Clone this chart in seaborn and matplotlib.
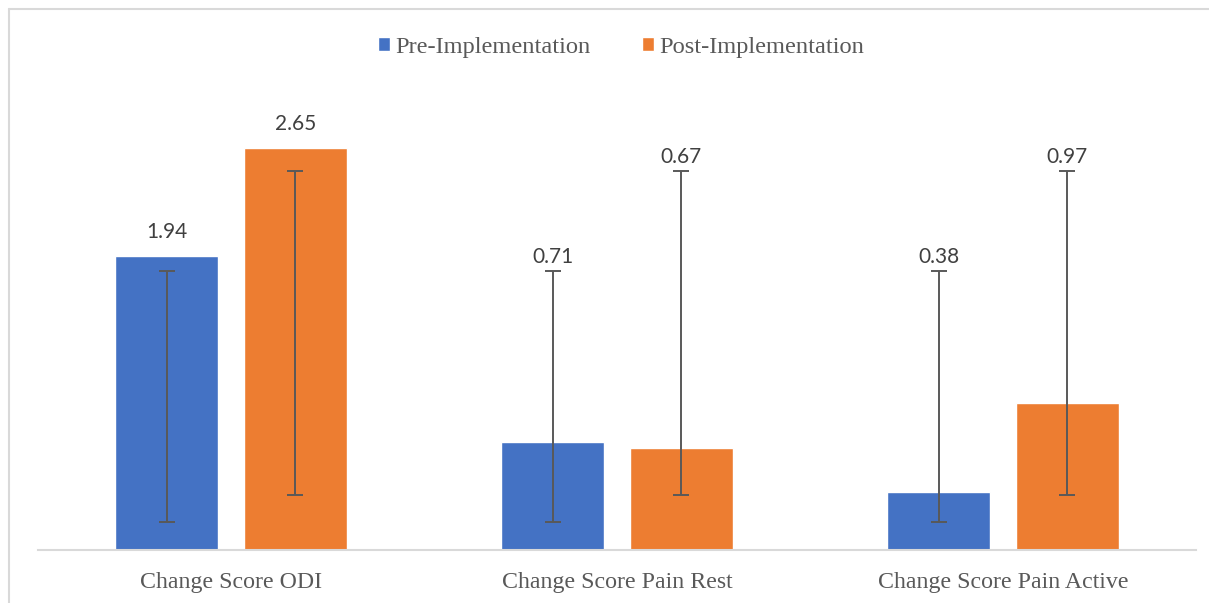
import matplotlib
matplotlib.use("Agg")
import matplotlib.pyplot as plt
from matplotlib.lines import Line2D
import seaborn as sns
import pandas as pd
import numpy as np

categories = ["Change Score ODI", "Change Score Pain Rest", "Change Score Pain Active"]
series = ["Pre-Implementation", "Post-Implementation"]
pre_values = [1.94, 0.71, 0.38]
post_values = [2.65, 0.67, 0.97]
# error bar extents (lower, upper) as drawn in the chart
pre_err_low = [0.185, 0.185, 0.185]
pre_err_high = [1.84, 1.84, 1.84]
post_err_low = [0.365, 0.365, 0.365]
post_err_high = [2.50, 2.50, 2.50]
value_labels_pre = ["1.94", "0.71", "0.38"]
value_labels_post = ["2.65", "0.67", "0.97"]

colors = ["#4472C4", "#ED7D31"]

df = pd.DataFrame({
    "category": categories * 2,
    "series": [series[0]] * 3 + [series[1]] * 3,
    "value": pre_values + post_values,
})

sns.set_theme(style="white")
plt.rcParams["font.family"] = ["Liberation Serif", "DejaVu Serif"]

W, H = 1209, 603
fig = plt.figure(figsize=(W / 100, H / 100), dpi=100)
ax = fig.add_axes([38 / W, (H - 550) / H, 1158 / W, 453 / H])

sns.barplot(data=df, x="category", y="value", hue="series", palette=colors,
            width=0.667, gap=0.2, ax=ax, errorbar=None, saturation=1)

YMAX = 2.985
ax.set_ylim(0, YMAX)
ax.set_xlim(-0.5, 2.5)
ax.set_xlabel("")
ax.set_ylabel("")
ax.set_yticks([])
for s in ["left", "right", "top"]:
    ax.spines[s].set_visible(False)
ax.spines["bottom"].set_color("#d9d9d9")
ax.spines["bottom"].set_linewidth(1.5)
ax.tick_params(axis="x", length=0, pad=16, labelsize=17.2, labelcolor="#595959")

# bar positions from the library
bar_containers = list(ax.containers)
err_lows = [pre_err_low, post_err_low]
err_highs = [pre_err_high, post_err_high]
lbls = [value_labels_pre, value_labels_post]
vals = [pre_values, post_values]
px = YMAX / 453.0  # data units per pixel
for i, cont in enumerate(bar_containers):
    xs = [p.get_x() + p.get_width() / 2 for p in cont.patches]
    lo = np.array(err_lows[i]); hi = np.array(err_highs[i])
    mid = (lo + hi) / 2
    ax.errorbar(xs, mid, yerr=(hi - lo) / 2, fmt="none", ecolor="#595959",
                elinewidth=1.4, capsize=5.5, capthick=1.4, zorder=5)
    for x, v, h, t in zip(xs, vals[i], hi, lbls[i]):
        y = max(v + 24 * px, h + 14 * px)
        ax.text(x, y, t, ha="center", va="center", fontsize=15,
                family=["Lato", "DejaVu Sans"], color="#404040")

sns.move_legend(ax, loc="center", bbox_to_anchor=((621 - 38) / 1158, (550 - 47) / 453),
                ncol=2, frameon=False, title=None, fontsize=17.6,
                handlelength=0.5, handleheight=0.5, handletextpad=0.2,
                columnspacing=2.1)
for t in ax.get_legend().get_texts():
    t.set_color("#595959")

# chart border (left and top visible)
fig.add_artist(Line2D([8.5 / W, 8.5 / W], [0, 1 - 8.5 / H], color="#d9d9d9", lw=1.5,
                      transform=fig.transFigure))
fig.add_artist(Line2D([8.5 / W, 1], [1 - 8.5 / H, 1 - 8.5 / H], color="#d9d9d9", lw=1.5,
                      transform=fig.transFigure))

fig.savefig("out.png", dpi=100)
